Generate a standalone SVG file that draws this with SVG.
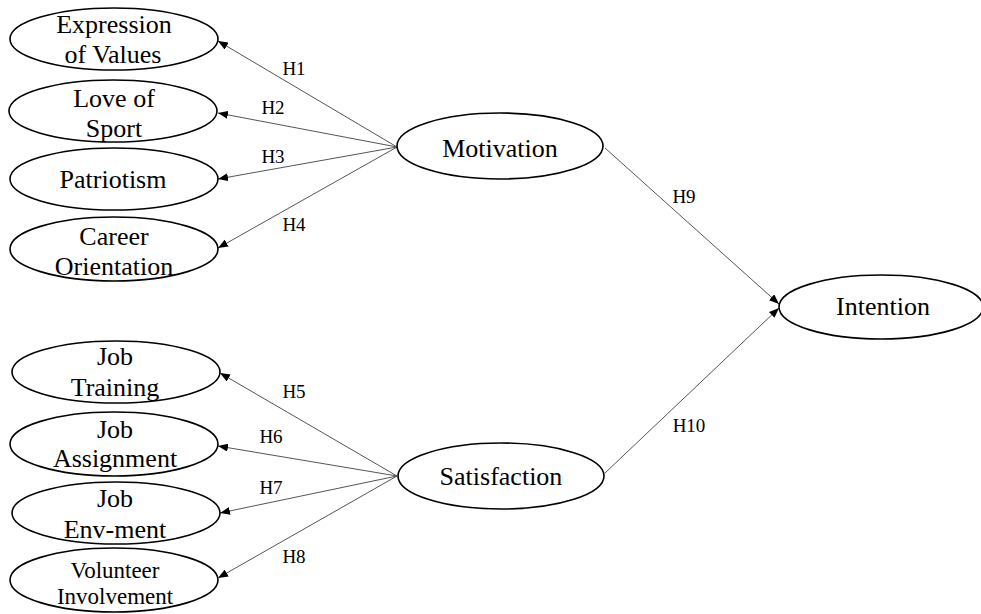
<svg xmlns="http://www.w3.org/2000/svg" width="981" height="614" viewBox="0 0 981 614">
<style>
.node ellipse{fill:#fff;stroke:#000;stroke-width:1.6}
.node text{font-family:"Liberation Serif","Times New Roman",serif;font-size:26px;fill:#000;text-anchor:middle}
.node text.sm{font-size:23px}
.edge{stroke:#555;stroke-width:1;fill:none;marker-end:url(#arr)}
.lbl{font-family:"Liberation Serif","Times New Roman",serif;font-size:19px;fill:#000;text-anchor:middle}
</style>
<defs>
<marker id="arr" markerUnits="userSpaceOnUse" markerWidth="11" markerHeight="8" refX="10" refY="4" orient="auto">
<path d="M0,0 L10,4 L0,8 z" fill="#000"/>
</marker>
</defs>
<rect width="981" height="614" fill="#fff"/>
<g id="connectors">
<line class="edge" x1="397" y1="147" x2="218" y2="41"/>
<line class="edge" x1="397" y1="147" x2="218" y2="113"/>
<line class="edge" x1="397" y1="147" x2="218" y2="179"/>
<line class="edge" x1="397" y1="147" x2="218" y2="248"/>
<line class="edge" x1="397" y1="476" x2="220" y2="373"/>
<line class="edge" x1="397" y1="476" x2="218" y2="446"/>
<line class="edge" x1="397" y1="476" x2="220" y2="513"/>
<line class="edge" x1="397" y1="476" x2="218" y2="578"/>
<line class="edge" x1="605" y1="148" x2="779" y2="304"/>
<line class="edge" x1="605" y1="473" x2="779" y2="308"/>
<text class="lbl" x="294" y="75">H1</text>
<text class="lbl" x="273" y="114">H2</text>
<text class="lbl" x="273" y="163">H3</text>
<text class="lbl" x="294" y="231">H4</text>
<text class="lbl" x="294" y="398">H5</text>
<text class="lbl" x="271" y="443">H6</text>
<text class="lbl" x="271" y="494">H7</text>
<text class="lbl" x="294" y="563">H8</text>
<text class="lbl" x="684" y="203">H9</text>
<text class="lbl" x="689" y="432">H10</text>
</g>
<g id="expression" class="node"><ellipse cx="114" cy="39" rx="104" ry="31"/><text x="114" y="33">Expression</text><text x="113" y="63">of Values</text></g>
<g id="love" class="node"><ellipse cx="113" cy="111" rx="104" ry="31"/><text x="114" y="107">Love of</text><text x="114" y="137">Sport</text></g>
<g id="patriotism" class="node"><ellipse cx="114" cy="179" rx="104" ry="31"/><text x="113" y="188">Patriotism</text></g>
<g id="career" class="node"><ellipse cx="114" cy="249" rx="104" ry="32"/><text x="114" y="245">Career</text><text x="114" y="275">Orientation</text></g>
<g id="training" class="node"><ellipse cx="116" cy="372" rx="104" ry="31"/><text x="115" y="365">Job</text><text x="115" y="396">Training</text></g>
<g id="assignment" class="node"><ellipse cx="114" cy="444" rx="104" ry="32"/><text x="115" y="438">Job</text><text x="115" y="467">Assignment</text></g>
<g id="environment" class="node"><ellipse cx="116" cy="513" rx="104" ry="31"/><text x="115" y="507">Job</text><text x="115" y="538">Env-ment</text></g>
<g id="volunteer" class="node"><ellipse cx="114" cy="580" rx="104" ry="32"/><text class="sm" x="115" y="578">Volunteer</text><text class="sm" x="115" y="604">Involvement</text></g>
<g id="motivation" class="node"><ellipse cx="500" cy="146" rx="103" ry="33"/><text x="500" y="157">Motivation</text></g>
<g id="satisfaction" class="node"><ellipse cx="501" cy="476" rx="103" ry="33"/><text x="501" y="485">Satisfaction</text></g>
<g id="intention" class="node"><ellipse cx="881" cy="307" rx="102" ry="32"/><text x="883" y="315">Intention</text></g>
</svg>
